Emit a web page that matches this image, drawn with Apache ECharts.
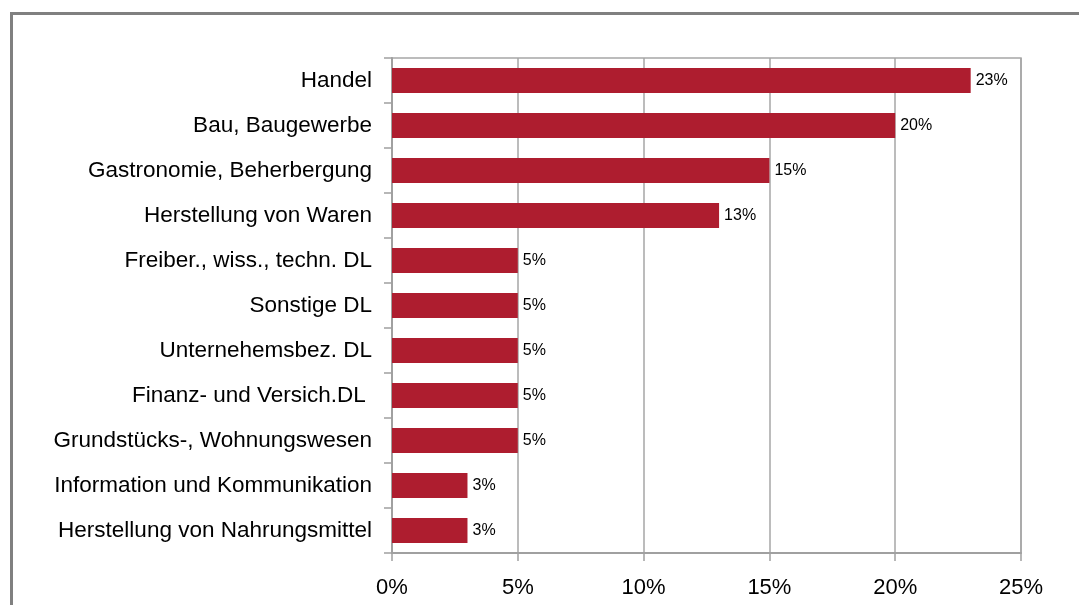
<!DOCTYPE html>
<html>
<head>
<meta charset="utf-8">
<script src="https://cdn.jsdelivr.net/npm/echarts@6/dist/echarts.min.js"></script>
<style>
html,body{margin:0;padding:0;background:#fff;}
#c{width:1079px;height:605px;}
</style>
</head>
<body>
<div id="c"></div>
<script>
const categories = [
  "Handel",
  "Bau, Baugewerbe",
  "Gastronomie, Beherbergung",
  "Herstellung von Waren",
  "Freiber., wiss., techn. DL",
  "Sonstige DL",
  "Unternehemsbez. DL",
  "Finanz- und Versich.DL ",
  "Grundstücks-, Wohnungswesen",
  "Information und Kommunikation",
  "Herstellung von Nahrungsmittel"
];
const values = [23, 20, 15, 13, 5, 5, 5, 5, 5, 3, 3];
const xTicks = [0, 5, 10, 15, 20, 25];

const chart = echarts.init(document.getElementById('c'), null, {renderer: 'canvas'});
const font = '"Liberation Sans", Arial, sans-serif';
chart.setOption({
  animation: false,
  backgroundColor: '#ffffff',
  graphic: [{
    type: 'rect',
    shape: {x: 11.5, y: 13.5, width: 1200, height: 1000},
    style: {fill: 'none', stroke: '#808080', lineWidth: 3},
    z: -1
  }],
  grid: {
    left: 392, right: 58, top: 58, bottom: 52,
    show: true, borderColor: '#a6a6a6', borderWidth: 1.5
  },
  xAxis: {
    type: 'value',
    min: xTicks[0], max: xTicks[xTicks.length - 1], interval: 5,
    axisLine: {show: true, lineStyle: {color: '#a0a0a0', width: 2}},
    axisTick: {show: true, length: 8, lineStyle: {color: '#a0a0a0', width: 1.5}},
    splitLine: {show: true, lineStyle: {color: '#a6a6a6', width: 1.5}},
    axisLabel: {
      formatter: v => v + '%', color: '#000', fontSize: 22, fontFamily: font, margin: 24
    }
  },
  yAxis: {
    type: 'category',
    inverse: true,
    data: categories,
    axisLine: {show: true, lineStyle: {color: '#a0a0a0', width: 2}},
    axisTick: {show: true, length: 8, lineStyle: {color: '#a0a0a0', width: 1.5}},
    axisLabel: {color: '#000', fontSize: 22.5, fontFamily: font, margin: 20}
  },
  series: [{
    type: 'bar',
    data: values,
    barCategoryGap: '44%',
    itemStyle: {color: '#ae1d2f'},
    label: {
      show: true, position: 'right', distance: 5,
      formatter: p => p.value + '%',
      color: '#000', fontSize: 16, fontFamily: font
    }
  }]
});
</script>
</body>
</html>
